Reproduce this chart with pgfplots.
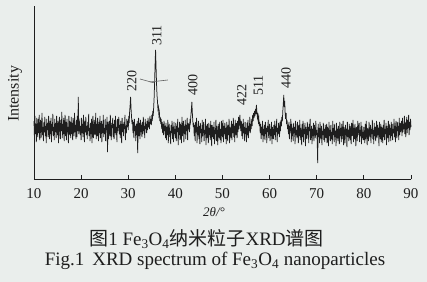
\documentclass[border=0pt]{standalone}
\usepackage{pgfplots}
\pgfplotsset{compat=1.18}
\usepackage{fontspec}
\setmainfont{Liberation Serif}
\newfontfamily\cjk{Noto Sans CJK SC}
\definecolor{bg}{RGB}{234,238,236}
\definecolor{ink}{RGB}{30,30,30}
\begin{document}
\begin{tikzpicture}[x=1bp,y=1bp]
\fill[bg] (-34,-103) rectangle (393,179);
\path[use as bounding box] (-34,-103) rectangle (393,179);
\begin{axis}[
  at={(0,0)}, anchor=south west,
  scale only axis, width=377bp, height=173bp,
  xmin=10, xmax=90, ymin=0, ymax=173,
  axis x line=bottom, axis y line=left,
  axis line style={-, ink, line width=0.9bp},
  xtick={10,20,...,90}, ytick=\empty,
  tick align=inside, major tick length=4bp,
  tick style={ink, line width=0.8bp},
  xticklabel style={font=\fontsize{15bp}{15bp}\selectfont, text=ink, yshift=-6bp},
  /pgf/number format/assume math mode=true,
  clip=false,
]
\addplot[ink, line width=0.75bp] coordinates {
(10.0,58)(10.1,40)(10.2,63)(10.3,45)(10.4,55)(10.5,37)(10.6,61)(10.7,48)(10.8,42)(10.9,60)
(11.0,46)(11.1,64)(11.2,39)(11.3,54)(11.4,59)(11.5,41)(11.6,50)(11.7,66)(11.8,44)(11.9,52)
(12.0,38)(12.1,57)(12.2,47)(12.3,62)(12.4,43)(12.5,53)(12.6,36)(12.7,60)(12.8,49)(12.9,56)
(13.0,42)(13.1,63)(13.2,51)(13.3,40)(13.4,58)(13.5,45)(13.6,61)(13.7,37)(13.8,55)(13.9,48)
(14.0,65)(14.1,43)(14.2,52)(14.3,39)(14.4,60)(14.5,47)(14.6,56)(14.7,41)(14.8,63)(14.9,50)
(15.0,44)(15.1,58)(15.2,36)(15.3,54)(15.4,62)(15.5,46)(15.6,40)(15.7,59)(15.8,48)(15.9,67)
(16.0,41)(16.1,55)(16.2,45)(16.3,61)(16.4,38)(16.5,53)(16.6,64)(16.7,43)(16.8,57)(16.9,39)
(17.0,60)(17.1,47)(17.2,52)(17.3,36)(17.4,63)(17.5,44)(17.6,58)(17.7,49)(17.8,41)(17.9,62)
(18.0,45)(18.1,56)(18.2,39)(18.3,61)(18.4,50)(18.5,43)(18.6,66)(18.7,47)(18.8,54)(18.9,40)
(19.0,59)(19.1,42)(19.2,63)(19.3,48)(19.4,82)(19.5,45)(19.6,56)(19.7,58)(19.8,44)(19.9,53)
(20.0,39)(20.1,61)(20.2,46)(20.3,55)(20.4,42)(20.5,64)(20.6,50)(20.7,37)(20.8,58)(20.9,47)
(21.0,62)(21.1,44)(21.2,53)(21.3,40)(21.4,57)(21.5,48)(21.6,65)(21.7,43)(21.8,51)(21.9,38)
(22.0,56)(22.1,45)(22.2,60)(22.3,36)(22.4,54)(22.5,63)(22.6,41)(22.7,49)(22.8,59)(22.9,44)
(23.0,47)(23.1,66)(23.2,40)(23.3,55)(23.4,43)(23.5,61)(23.6,50)(23.7,38)(23.8,57)(23.9,46)
(24.0,63)(24.1,41)(24.2,52)(24.3,58)(24.4,37)(24.5,55)(24.6,46)(24.7,64)(24.8,42)(24.9,51)
(25.0,45)(25.1,60)(25.2,38)(25.3,54)(25.4,49)(25.5,62)(25.6,27)(25.7,57)(25.8,40)(25.9,53)
(26.0,58)(26.1,43)(26.2,64)(26.3,47)(26.4,39)(26.5,56)(26.6,51)(26.7,61)(26.8,42)(26.9,55)
(27.0,40)(27.1,59)(27.2,46)(27.3,63)(27.4,44)(27.5,52)(27.6,37)(27.7,60)(27.8,48)(27.9,57)
(28.0,62)(28.1,45)(28.2,54)(28.3,41)(28.4,58)(28.5,49)(28.6,36)(28.7,61)(28.8,47)(28.9,55)
(29.0,43)(29.1,57)(29.2,50)(29.3,64)(29.4,39)(29.5,53)(29.6,46)(29.7,60)(29.8,52)(29.9,58)
(30.0,49)(30.1,63)(30.2,56)(30.3,68)(30.4,74)(30.5,82)(30.6,70)(30.7,62)(30.8,55)(30.9,59)
(31.0,46)(31.1,57)(31.2,41)(31.3,60)(31.4,48)(31.5,53)(31.6,38)(31.7,55)(31.8,44)(31.9,58)
(32.0,26)(32.1,50)(32.2,61)(32.3,43)(32.4,56)(32.5,40)(32.6,59)(32.7,47)(32.8,54)(32.9,42)
(33.0,57)(33.1,45)(33.2,62)(33.3,48)(33.4,53)(33.5,41)(33.6,60)(33.7,50)(33.8,55)(33.9,46)
(34.0,58)(34.1,49)(34.2,61)(34.3,52)(34.4,57)(34.5,50)(34.6,63)(34.7,55)(34.8,60)(34.9,54)
(35.0,64)(35.1,58)(35.2,68)(35.3,63)(35.4,72)(35.5,82)(35.6,98)(35.7,115)(35.8,129)(35.9,112)
(36.0,96)(36.1,84)(36.2,78)(36.3,70)(36.4,72)(36.5,64)(36.6,67)(36.7,58)(36.8,62)(36.9,55)
(37.0,60)(37.1,50)(37.2,57)(37.3,46)(37.4,55)(37.5,44)(37.6,58)(37.7,48)(37.8,53)(37.9,41)
(38.0,56)(38.1,39)(38.2,52)(38.3,44)(38.4,59)(38.5,36)(38.6,50)(38.7,55)(38.8,42)(38.9,48)
(39.0,35)(39.1,54)(39.2,46)(39.3,58)(39.4,40)(39.5,52)(39.6,37)(39.7,57)(39.8,45)(39.9,50)
(40.0,41)(40.1,56)(40.2,38)(40.3,53)(40.4,47)(40.5,60)(40.6,34)(40.7,51)(40.8,44)(40.9,57)
(41.0,39)(41.1,55)(41.2,48)(41.3,36)(41.4,62)(41.5,43)(41.6,50)(41.7,58)(41.8,37)(41.9,53)
(42.0,45)(42.1,59)(42.2,40)(42.3,54)(42.4,48)(42.5,61)(42.6,39)(42.7,56)(42.8,50)(42.9,55)
(43.0,47)(43.1,60)(43.2,57)(43.3,64)(43.4,70)(43.5,77)(43.6,66)(43.7,58)(43.8,52)(43.9,56)
(44.0,43)(44.1,54)(44.2,38)(44.3,57)(44.4,47)(44.5,61)(44.6,36)(44.7,52)(44.8,44)(44.9,58)
(45.0,40)(45.1,53)(45.2,35)(45.3,56)(45.4,46)(45.5,50)(45.6,37)(45.7,59)(45.8,43)(45.9,51)
(46.0,57)(46.1,38)(46.2,49)(46.3,45)(46.4,60)(46.5,34)(46.6,53)(46.7,41)(46.8,55)(46.9,47)
(47.0,36)(47.1,56)(47.2,44)(47.3,51)(47.4,39)(47.5,58)(47.6,46)(47.7,33)(47.8,54)(47.9,42)
(48.0,52)(48.1,40)(48.2,57)(48.3,35)(48.4,49)(48.5,45)(48.6,59)(48.7,38)(48.8,53)(48.9,44)
(49.0,34)(49.1,55)(49.2,47)(49.3,41)(49.4,57)(49.5,39)(49.6,50)(49.7,36)(49.8,58)(49.9,46)
(50.0,42)(50.1,59)(50.2,37)(50.3,53)(50.4,45)(50.5,56)(50.6,40)(50.7,51)(50.8,35)(50.9,57)
(51.0,48)(51.1,38)(51.2,54)(51.3,44)(51.4,60)(51.5,36)(51.6,52)(51.7,47)(51.8,41)(51.9,58)
(52.0,39)(52.1,55)(52.2,46)(52.3,61)(52.4,42)(52.5,53)(52.6,37)(52.7,59)(52.8,49)(52.9,44)
(53.0,56)(53.1,41)(53.2,58)(53.3,47)(53.4,62)(53.5,50)(53.6,60)(53.7,64)(53.8,53)(53.9,48)
(54.0,58)(54.1,43)(54.2,55)(54.3,40)(54.4,60)(54.5,46)(54.6,52)(54.7,38)(54.8,57)(54.9,45)
(55.0,51)(55.1,37)(55.2,56)(55.3,44)(55.4,59)(55.5,41)(55.6,53)(55.7,48)(55.8,62)(55.9,46)
(56.0,55)(56.1,50)(56.2,60)(56.3,53)(56.4,64)(56.5,58)(56.6,66)(56.7,61)(56.8,68)(56.9,63)
(57.0,70)(57.1,65)(57.2,74)(57.3,67)(57.4,62)(57.5,66)(57.6,58)(57.7,61)(57.8,53)(57.9,57)
(58.0,46)(58.1,55)(58.2,40)(58.3,52)(58.4,44)(58.5,58)(58.6,37)(58.7,50)(58.8,43)(58.9,54)
(59.0,39)(59.1,57)(59.2,45)(59.3,51)(59.4,36)(59.5,53)(59.6,47)(59.7,59)(59.8,41)(59.9,49)
(60.0,55)(60.1,38)(60.2,50)(60.3,43)(60.4,57)(60.5,35)(60.6,52)(60.7,46)(60.8,40)(60.9,54)
(61.0,44)(61.1,58)(61.2,39)(61.3,53)(61.4,47)(61.5,60)(61.6,37)(61.7,51)(61.8,45)(61.9,56)
(62.0,50)(62.1,42)(62.2,57)(62.3,48)(62.4,59)(62.5,53)(62.6,62)(62.7,58)(62.8,68)(62.9,75)
(63.0,84)(63.1,72)(63.2,78)(63.3,65)(63.4,60)(63.5,66)(63.6,55)(63.7,59)(63.8,50)(63.9,54)
(64.0,45)(64.1,57)(64.2,40)(64.3,53)(64.4,48)(64.5,60)(64.6,37)(64.7,55)(64.8,43)(64.9,51)
(65.0,38)(65.1,56)(65.2,46)(65.3,52)(65.4,35)(65.5,58)(65.6,44)(65.7,49)(65.8,41)(65.9,57)
(66.0,48)(66.1,36)(66.2,54)(66.3,43)(66.4,59)(66.5,39)(66.6,51)(66.7,46)(66.8,34)(66.9,55)
(67.0,42)(67.1,58)(67.2,37)(67.3,50)(67.4,45)(67.5,56)(67.6,33)(67.7,52)(67.8,47)(67.9,40)
(68.0,57)(68.1,44)(68.2,52)(68.3,36)(68.4,55)(68.5,48)(68.6,60)(68.7,39)(68.8,46)(68.9,53)
(69.0,35)(69.1,50)(69.2,43)(69.3,56)(69.4,38)(69.5,54)(69.6,47)(69.7,41)(69.8,58)(69.9,44)
(70.0,49)(70.1,38)(70.2,16)(70.3,55)(70.4,42)(70.5,51)(70.6,36)(70.7,57)(70.8,45)(70.9,40)
(71.0,53)(71.1,34)(71.2,48)(71.3,44)(71.4,56)(71.5,39)(71.6,50)(71.7,37)(71.8,54)(71.9,46)
(72.0,41)(72.1,55)(72.2,36)(72.3,52)(72.4,45)(72.5,33)(72.6,57)(72.7,43)(72.8,49)(72.9,38)
(73.0,54)(73.1,40)(73.2,47)(73.3,35)(73.4,58)(73.5,44)(73.6,51)(73.7,37)(73.8,55)(73.9,42)
(74.0,48)(74.1,33)(74.2,56)(74.3,41)(74.4,50)(74.5,38)(74.6,53)(74.7,46)(74.8,35)(74.9,57)
(75.0,43)(75.1,51)(75.2,37)(75.3,55)(75.4,40)(75.5,48)(75.6,58)(75.7,34)(75.8,52)(75.9,45)
(76.0,36)(76.1,54)(76.2,44)(76.3,50)(76.4,32)(76.5,57)(76.6,42)(76.7,49)(76.8,38)(76.9,55)
(77.0,46)(77.1,39)(77.2,53)(77.3,35)(77.4,56)(77.5,43)(77.6,48)(77.7,59)(77.8,37)(77.9,51)
(78.0,40)(78.1,55)(78.2,45)(78.3,33)(78.4,52)(78.5,47)(78.6,38)(78.7,58)(78.8,44)(78.9,50)
(79.0,56)(79.1,37)(79.2,49)(79.3,43)(79.4,57)(79.5,35)(79.6,53)(79.7,41)(79.8,47)(79.9,39)
(80.0,52)(80.1,44)(80.2,36)(80.3,55)(80.4,40)(80.5,58)(80.6,46)(80.7,34)(80.8,51)(80.9,43)
(81.0,38)(81.1,57)(81.2,47)(81.3,42)(81.4,54)(81.5,36)(81.6,50)(81.7,45)(81.8,59)(81.9,40)
(82.0,49)(82.1,35)(82.2,56)(82.3,43)(82.4,52)(82.5,38)(82.6,47)(82.7,58)(82.8,41)(82.9,54)
(83.0,44)(83.1,51)(83.2,33)(83.3,57)(83.4,46)(83.5,40)(83.6,55)(83.7,37)(83.8,52)(83.9,48)
(84.0,36)(84.1,54)(84.2,42)(84.3,59)(84.4,39)(84.5,50)(84.6,45)(84.7,56)(84.8,34)(84.9,53)
(85.0,47)(85.1,41)(85.2,58)(85.3,37)(85.4,55)(85.5,44)(85.6,51)(85.7,38)(85.8,57)(85.9,43)
(86.0,55)(86.1,39)(86.2,50)(86.3,46)(86.4,60)(86.5,42)(86.6,53)(86.7,37)(86.8,58)(86.9,45)
(87.0,41)(87.1,57)(87.2,48)(87.3,53)(87.4,39)(87.5,61)(87.6,44)(87.7,56)(87.8,47)(87.9,52)
(88.0,58)(88.1,43)(88.2,61)(88.3,47)(88.4,55)(88.5,50)(88.6,63)(88.7,45)(88.8,57)(88.9,42)
(89.0,54)(89.1,62)(89.2,46)(89.3,59)(89.4,51)(89.5,64)(89.6,44)(89.7,57)(89.8,49)(89.9,60)
(90.0,52)
};
\begin{scope}[every node/.style={rotate=90, anchor=west, inner sep=0pt, text=ink, font=\fontsize{14bp}{14bp}\selectfont}]
\node at (axis cs:30.73,87) {220};
\node at (axis cs:36.04,133) {311};
\node at (axis cs:43.67,83) {400};
\node at (axis cs:54.07,73) {422};
\node at (axis cs:57.6,83) {511};
\node at (axis cs:63.47,90) {440};
\end{scope}
\draw[ink!70, line width=0.6bp] (axis cs:32.5,100) -- (axis cs:35.6,96);
\draw[ink!70, line width=0.6bp] (axis cs:34.6,97) -- (axis cs:38.4,99);
\end{axis}
\node[rotate=90, text=ink, font=\fontsize{16bp}{16bp}\selectfont] at (-19,85) {Intensity};
\node[text=ink, font=\fontsize{13bp}{13bp}\selectfont\itshape] at (180,-33) {2θ/°};
\node[text=ink, font=\fontsize{19bp}{19bp}\selectfont] at (172.5,-60) {{\cjk 图}1 Fe\textsubscript{3}O\textsubscript{4}{\cjk 纳米粒子}XRD{\cjk 谱图}};
\node[text=ink, font=\fontsize{19bp}{19bp}\selectfont] at (181,-82) {Fig.1\, XRD spectrum of Fe\textsubscript{3}O\textsubscript{4} nanoparticles};
\end{tikzpicture}
\end{document}
